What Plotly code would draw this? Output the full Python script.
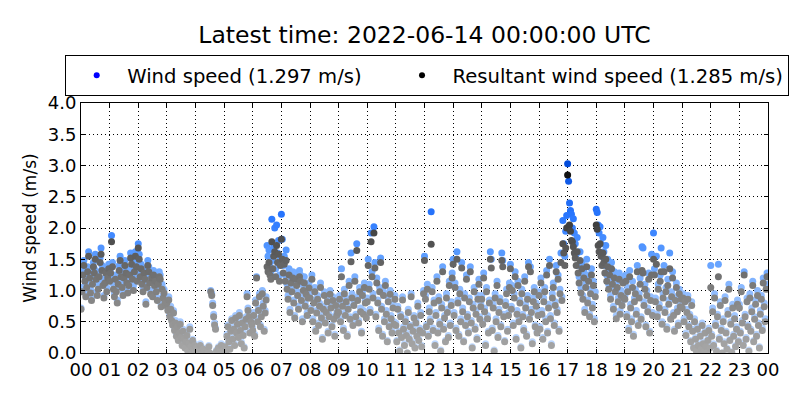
import pandas as pd
import plotly.graph_objects as go

# 2-minute samples for 2022-06-13, one row of 30 values per hour
wind_speed = [
    0.72, 1.05, 1.32, 1.48, 1.22, 0.95, 1.12, 1.38, 1.62, 1.28, 1.02, 0.88, 1.18, 1.45, 1.35, 1.58, 1.25, 0.98, 1.10, 1.30, 1.52, 1.68, 1.40, 1.15, 0.92, 1.20, 1.36, 1.05, 1.28, 1.42,
    1.22, 1.35, 1.88, 1.45, 1.10, 0.95, 1.25, 1.05, 0.85, 1.18, 1.40, 1.55, 1.30, 1.12, 0.98, 1.28, 1.48, 1.36, 1.20, 1.02, 1.15, 1.32, 1.60, 1.50, 1.25, 1.08, 1.38, 1.62, 1.45, 1.22,
    1.75, 1.58, 1.30, 1.42, 1.18, 1.05, 1.35, 1.25, 0.82, 1.12, 1.48, 1.38, 1.20, 1.00, 1.28, 0.95, 1.32, 1.15, 1.22, 1.05, 0.88, 1.18, 1.30, 1.25, 0.78, 1.10, 0.92, 1.02, 0.85, 0.80,
    0.85, 0.72, 0.90, 0.62, 0.75, 0.55, 0.48, 0.68, 0.40, 0.52, 0.30, 0.45, 0.22, 0.35, 0.50, 0.28, 0.15, 0.38, 0.25, 0.10, 0.20, 0.32, 0.05, 0.18, 0.42, 0.12, 0.00, 0.22, 0.08, 0.15,
    0.02, 0.10, 0.00, 0.05, 0.00, 0.15, 0.03, 0.00, 0.08, 0.00, 0.02, 0.00, 0.06, 0.00, 0.12, 0.00, 1.00, 0.95, 0.80, 0.62, 0.48, 0.40, 0.05, 0.00, 0.10, 0.03, 0.00, 0.15, 0.05, 0.02,
    0.00, 0.12, 0.05, 0.30, 0.45, 0.20, 0.08, 0.38, 0.55, 0.25, 0.42, 0.15, 0.60, 0.35, 0.50, 0.28, 0.65, 0.40, 0.18, 0.52, 0.32, 0.10, 0.45, 0.58, 0.95, 0.72, 0.62, 0.35, 0.55, 0.48,
    0.40, 0.65, 0.30, 0.85, 1.22, 0.55, 0.72, 0.95, 0.45, 0.62, 1.00, 0.80, 0.38, 0.68, 0.90, 1.72, 1.55, 1.65, 1.40, 1.30, 2.14, 1.48, 1.70, 2.00, 1.35, 2.05, 1.60, 1.80, 1.25, 1.52,
    2.22, 1.82, 1.40, 1.55, 1.25, 1.65, 1.10, 0.92, 1.35, 0.70, 1.20, 1.05, 1.30, 0.85, 0.60, 1.28, 1.15, 0.98, 0.75, 1.32, 1.25, 0.90, 0.55, 1.08, 1.22, 0.80, 1.00, 0.65, 0.95, 1.12,
    0.95, 0.72, 1.25, 0.55, 0.85, 1.05, 0.38, 0.68, 0.92, 0.48, 0.80, 1.12, 0.60, 0.25, 0.75, 0.98, 0.52, 0.70, 0.88, 0.35, 0.62, 1.00, 0.78, 0.45, 0.90, 0.58, 0.30, 0.82, 0.65, 0.72,
    0.70, 0.92, 0.55, 1.35, 0.80, 0.40, 1.02, 0.65, 0.88, 0.30, 0.75, 1.15, 0.58, 1.60, 0.95, 0.48, 0.82, 1.22, 0.62, 1.75, 0.90, 0.52, 1.05, 0.72, 0.35, 0.98, 0.68, 1.12, 0.85, 0.60,
    0.88, 1.50, 1.10, 0.70, 1.92, 1.30, 0.95, 2.02, 1.45, 0.62, 1.20, 0.85, 0.40, 1.05, 1.52, 0.75, 0.30, 0.98, 0.55, 1.15, 0.68, 0.20, 0.88, 0.45, 1.00, 0.60, 0.35, 0.78, 0.50, 0.92,
    0.48, 0.20, 0.75, 0.35, 0.05, 0.62, 0.28, 0.90, 0.42, 0.15, 0.55, 0.32, 0.00, 0.70, 0.25, 0.45, 0.95, 0.18, 0.38, 0.60, 0.10, 0.52, 0.30, 0.80, 0.22, 0.40, 0.65, 0.12, 0.35, 1.00,
    1.55, 0.92, 0.45, 1.10, 0.30, 0.72, 0.55, 2.26, 1.05, 0.40, 0.85, 0.15, 0.65, 1.22, 0.35, 0.90, 0.50, 0.05, 0.78, 1.38, 0.42, 0.60, 0.20, 0.95, 0.70, 0.28, 1.15, 0.48, 0.82, 1.28,
    1.50, 0.65, 1.12, 0.40, 1.62, 0.85, 0.30, 1.02, 0.55, 1.45, 0.72, 0.20, 0.95, 0.48, 1.25, 0.62, 0.35, 0.88, 1.38, 0.52, 0.10, 0.78, 1.05, 0.42, 0.68, 0.25, 0.92, 1.18, 0.58, 0.80,
    0.92, 0.50, 1.28, 0.72, 0.15, 1.05, 0.60, 0.35, 0.85, 1.62, 1.50, 0.40, 0.78, 0.05, 0.95, 0.55, 1.15, 0.28, 0.70, 0.88, 0.45, 1.60, 1.48, 0.62, 0.20, 0.82, 1.02, 0.38, 0.65, 1.12,
    1.42, 0.75, 1.08, 0.48, 0.95, 1.30, 0.25, 0.68, 1.15, 0.55, 0.85, 0.10, 1.02, 0.62, 0.40, 1.22, 0.78, 0.30, 0.92, 1.45, 0.58, 1.38, 0.70, 0.18, 0.88, 1.05, 0.45, 0.80, 0.35, 0.65,
    0.98, 0.42, 1.20, 0.68, 0.25, 0.88, 1.05, 0.55, 1.32, 0.35, 0.78, 1.50, 0.60, 0.15, 0.95, 1.12, 0.48, 0.82, 1.40, 0.70, 1.25, 0.38, 1.02, 1.60, 0.90, 2.12, 1.75, 1.55, 1.95, 2.20,
    3.03, 2.75, 2.40, 2.28, 2.22, 2.00, 2.15, 1.92, 1.75, 1.58, 1.85, 1.40, 1.22, 1.62, 1.05, 1.45, 0.92, 1.30, 0.70, 1.12, 1.50, 0.85, 1.25, 0.62, 1.02, 1.35, 0.78, 1.15, 0.55, 0.98,
    2.30, 2.25, 2.05, 1.92, 2.02, 1.75, 1.55, 1.85, 1.62, 1.40, 1.72, 1.25, 1.50, 1.10, 1.35, 0.92, 1.45, 1.20, 0.75, 1.30, 1.05, 0.60, 1.15, 0.88, 1.28, 0.68, 1.00, 0.82, 1.22, 0.95,
    0.92, 1.25, 0.62, 1.05, 0.40, 1.32, 0.78, 0.55, 1.15, 0.30, 0.88, 1.02, 0.68, 1.40, 0.48, 0.95, 1.20, 0.58, 1.70, 1.68, 0.82, 1.10, 0.45, 1.00, 0.72, 1.28, 0.35, 0.90, 1.58, 0.65,
    1.92, 1.35, 0.88, 1.55, 0.62, 1.10, 0.78, 1.25, 1.68, 0.50, 0.95, 1.40, 0.70, 1.05, 0.42, 1.18, 0.85, 1.60, 0.58, 0.98, 1.30, 0.65, 0.38, 0.90, 1.12, 0.72, 0.48, 1.02, 0.80, 0.92,
    0.78, 0.95, 0.55, 0.88, 0.32, 0.70, 0.92, 0.45, 0.62, 0.20, 0.82, 0.38, 0.10, 0.55, 0.25, 0.05, 0.42, 0.15, 0.00, 0.30, 0.08, 0.48, 0.18, 0.02, 0.35, 0.12, 0.00, 0.22, 0.40, 0.10,
    1.40, 0.30, 0.72, 0.15, 0.95, 0.48, 0.05, 0.62, 1.42, 0.25, 0.82, 0.40, 0.00, 0.55, 0.18, 0.90, 0.35, 0.08, 0.68, 1.10, 0.22, 0.50, 0.02, 0.78, 0.30, 0.60, 0.12, 0.42, 0.85, 0.20,
    0.78, 0.35, 1.05, 0.52, 0.15, 1.30, 0.62, 0.25, 0.88, 0.45, 0.05, 0.95, 0.38, 0.72, 1.15, 0.20, 0.58, 0.85, 0.30, 1.00, 0.48, 0.10, 0.68, 0.92, 0.40, 1.20, 0.80, 0.55, 1.10, 1.28,
]

resultant_speed = [
    0.70, 0.98, 1.25, 1.40, 1.15, 0.90, 1.05, 1.30, 1.55, 1.20, 0.96, 0.84, 1.10, 1.38, 1.28, 1.50, 1.18, 0.92, 1.02, 1.22, 1.45, 1.58, 1.32, 1.08, 0.88, 1.12, 1.28, 0.98, 1.20, 1.35,
    1.15, 1.28, 1.78, 1.38, 1.02, 0.90, 1.18, 0.98, 0.80, 1.10, 1.32, 1.48, 1.22, 1.05, 0.92, 1.20, 1.40, 1.28, 1.12, 0.96, 1.08, 1.25, 1.52, 1.42, 1.18, 1.00, 1.30, 1.55, 1.38, 1.15,
    1.68, 1.50, 1.22, 1.35, 1.10, 0.98, 1.28, 1.18, 0.78, 1.05, 1.40, 1.30, 1.12, 0.94, 1.20, 0.90, 1.25, 1.08, 1.15, 0.98, 0.84, 1.10, 1.22, 1.18, 0.74, 1.02, 0.88, 0.96, 0.80, 0.76,
    0.80, 0.68, 0.85, 0.58, 0.70, 0.52, 0.45, 0.64, 0.36, 0.48, 0.27, 0.42, 0.20, 0.32, 0.46, 0.25, 0.12, 0.35, 0.22, 0.08, 0.18, 0.28, 0.03, 0.15, 0.38, 0.10, 0.00, 0.20, 0.06, 0.12,
    0.01, 0.08, 0.00, 0.03, 0.00, 0.12, 0.02, 0.00, 0.06, 0.00, 0.01, 0.00, 0.04, 0.00, 0.10, 0.00, 0.98, 0.92, 0.76, 0.58, 0.45, 0.38, 0.03, 0.00, 0.08, 0.02, 0.00, 0.12, 0.03, 0.01,
    0.00, 0.10, 0.03, 0.27, 0.42, 0.18, 0.06, 0.35, 0.52, 0.22, 0.38, 0.12, 0.56, 0.32, 0.46, 0.25, 0.60, 0.36, 0.15, 0.48, 0.28, 0.08, 0.42, 0.54, 0.90, 0.68, 0.58, 0.32, 0.50, 0.45,
    0.36, 0.60, 0.27, 0.80, 1.20, 0.50, 0.68, 0.90, 0.42, 0.58, 0.95, 0.75, 0.35, 0.64, 0.85, 1.38, 1.30, 1.45, 1.25, 1.18, 1.78, 1.35, 1.55, 1.62, 1.22, 1.72, 1.45, 1.58, 1.15, 1.40,
    1.82, 1.50, 1.28, 1.42, 1.15, 1.48, 1.02, 0.86, 1.25, 0.65, 1.12, 0.98, 1.20, 0.80, 0.56, 1.18, 1.08, 0.92, 0.70, 1.22, 1.15, 0.84, 0.50, 1.00, 1.12, 0.75, 0.94, 0.60, 0.88, 1.04,
    0.88, 0.68, 1.18, 0.50, 0.80, 0.98, 0.35, 0.64, 0.86, 0.44, 0.75, 1.05, 0.56, 0.22, 0.70, 0.92, 0.48, 0.65, 0.82, 0.32, 0.58, 0.94, 0.72, 0.42, 0.84, 0.54, 0.27, 0.76, 0.60, 0.66,
    0.65, 0.86, 0.50, 1.22, 0.75, 0.36, 0.95, 0.60, 0.82, 0.27, 0.70, 1.08, 0.54, 1.46, 0.88, 0.44, 0.76, 1.15, 0.58, 1.64, 0.84, 0.48, 0.98, 0.66, 0.32, 0.92, 0.62, 1.05, 0.80, 0.56,
    0.82, 1.40, 1.02, 0.65, 1.78, 1.22, 0.88, 1.92, 1.36, 0.58, 1.12, 0.80, 0.36, 0.98, 1.45, 0.70, 0.27, 0.92, 0.50, 1.08, 0.62, 0.18, 0.82, 0.42, 0.94, 0.55, 0.32, 0.72, 0.46, 0.86,
    0.44, 0.18, 0.70, 0.32, 0.03, 0.58, 0.25, 0.85, 0.38, 0.12, 0.50, 0.28, 0.00, 0.65, 0.22, 0.42, 0.90, 0.15, 0.35, 0.56, 0.08, 0.48, 0.27, 0.75, 0.20, 0.36, 0.60, 0.10, 0.32, 0.95,
    1.48, 0.86, 0.42, 1.02, 0.27, 0.66, 0.50, 1.74, 0.98, 0.36, 0.80, 0.12, 0.60, 1.15, 0.32, 0.84, 0.46, 0.03, 0.72, 1.30, 0.38, 0.56, 0.18, 0.88, 0.65, 0.25, 1.08, 0.44, 0.76, 1.20,
    1.42, 0.60, 1.05, 0.36, 1.50, 0.80, 0.27, 0.95, 0.50, 1.36, 0.66, 0.18, 0.88, 0.44, 1.18, 0.58, 0.32, 0.82, 1.30, 0.48, 0.08, 0.72, 0.98, 0.38, 0.62, 0.22, 0.86, 1.10, 0.54, 0.74,
    0.86, 0.46, 1.20, 0.66, 0.12, 0.98, 0.55, 0.32, 0.80, 1.50, 1.36, 0.36, 0.72, 0.03, 0.88, 0.50, 1.08, 0.25, 0.65, 0.82, 0.42, 1.48, 1.38, 0.58, 0.18, 0.76, 0.95, 0.35, 0.60, 1.05,
    1.35, 0.70, 1.00, 0.44, 0.88, 1.22, 0.22, 0.62, 1.08, 0.50, 0.80, 0.08, 0.95, 0.58, 0.36, 1.15, 0.72, 0.27, 0.86, 1.38, 0.54, 1.30, 0.65, 0.15, 0.82, 0.98, 0.42, 0.75, 0.32, 0.60,
    0.92, 0.38, 1.12, 0.62, 0.22, 0.82, 0.98, 0.50, 1.25, 0.32, 0.72, 1.40, 0.55, 0.12, 0.88, 1.05, 0.44, 0.76, 1.30, 0.65, 1.18, 0.35, 0.95, 1.45, 0.84, 1.75, 1.60, 1.40, 1.68, 2.00,
    2.85, 2.02, 2.05, 1.95, 1.80, 1.78, 1.70, 1.60, 1.52, 1.40, 1.62, 1.28, 1.12, 1.48, 0.96, 1.35, 0.86, 1.20, 0.65, 1.05, 1.38, 0.80, 1.15, 0.58, 0.95, 1.25, 0.72, 1.08, 0.50, 0.90,
    2.05, 1.98, 1.72, 1.62, 1.75, 1.55, 1.40, 1.60, 1.45, 1.28, 1.50, 1.15, 1.38, 1.02, 1.25, 0.86, 1.35, 1.10, 0.70, 1.20, 0.98, 0.55, 1.05, 0.82, 1.18, 0.62, 0.92, 0.76, 1.12, 0.88,
    0.86, 1.15, 0.58, 0.98, 0.36, 1.22, 0.72, 0.50, 1.05, 0.27, 0.82, 0.95, 0.62, 1.30, 0.44, 0.88, 1.10, 0.54, 1.32, 1.28, 0.76, 1.02, 0.42, 0.92, 0.66, 1.18, 0.32, 0.84, 1.25, 0.60,
    1.50, 1.25, 0.82, 1.42, 0.58, 1.02, 0.72, 1.15, 1.30, 0.46, 0.88, 1.30, 0.65, 0.98, 0.38, 1.08, 0.78, 1.35, 0.54, 0.90, 1.20, 0.60, 0.35, 0.84, 1.05, 0.66, 0.44, 0.95, 0.74, 0.86,
    0.72, 0.88, 0.50, 0.82, 0.28, 0.65, 0.86, 0.42, 0.58, 0.18, 0.76, 0.35, 0.08, 0.50, 0.22, 0.03, 0.38, 0.12, 0.00, 0.27, 0.06, 0.44, 0.15, 0.01, 0.32, 0.10, 0.00, 0.20, 0.36, 0.08,
    1.05, 0.27, 0.66, 0.12, 0.88, 0.44, 0.03, 0.58, 1.22, 0.22, 0.76, 0.36, 0.00, 0.50, 0.15, 0.84, 0.32, 0.06, 0.62, 1.02, 0.20, 0.46, 0.01, 0.72, 0.27, 0.55, 0.10, 0.38, 0.78, 0.18,
    0.72, 0.32, 0.98, 0.48, 0.12, 1.25, 0.58, 0.22, 0.82, 0.42, 0.03, 0.88, 0.35, 0.66, 1.08, 0.18, 0.54, 0.78, 0.27, 0.92, 0.44, 0.08, 0.62, 0.86, 0.36, 1.12, 0.74, 0.50, 1.02, 1.22,
]

title_text = "Latest time: 2022-06-14 00:00:00 UTC"
ws_label = "Wind speed (1.297 m/s)"
rws_label = "Resultant wind speed (1.285 m/s)"
hour_labels = ["%02d" % h for h in range(24)] + ["00"]

ws_times = pd.date_range("2022-06-13 00:00", periods=len(wind_speed), freq="2min")
rws_times = pd.date_range("2022-06-13 00:00", periods=len(resultant_speed), freq="2min")
hour_ticks = pd.date_range("2022-06-13 00:00", "2022-06-14 00:00", freq="1h")

blues = [[0.0, "#c4dcff"], [0.33, "#8cbaff"], [0.5, "#5c9dff"], [0.7, "#2a78ff"], [1.0, "#0048d8"]]
greys = [[0.0, "#a8a8a8"], [0.33, "#808080"], [0.5, "#606060"], [0.7, "#3c3c3c"], [1.0, "#0a0a0a"]]

fig = go.Figure()
fig.add_trace(go.Scatter(
    x=ws_times, y=wind_speed, mode="markers", showlegend=False,
    marker=dict(size=7, color=wind_speed, colorscale=blues, cmin=0, cmax=3.1, line_width=0),
))
fig.add_trace(go.Scatter(
    x=rws_times, y=resultant_speed, mode="markers", showlegend=False,
    marker=dict(size=7, color=resultant_speed, colorscale=greys, cmin=0, cmax=3.0, line_width=0),
))
# legend-only entries (nbsp padding to space the two entries like the original)
fig.add_trace(go.Scatter(x=[None], y=[None], mode="markers", name=ws_label + "\u00a0" * 4,
                         marker=dict(size=6, color="#0000ff")))
fig.add_trace(go.Scatter(x=[None], y=[None], mode="markers", name=rws_label,
                         marker=dict(size=6, color="#000000")))

axis_common = dict(
    showline=True, linecolor="black", linewidth=1, mirror="ticks",
    ticks="inside", ticklen=4, tickcolor="black",
    showgrid=True, gridcolor="black", gridwidth=1, griddash="1px,3px",
    zeroline=False, tickfont=dict(size=18, color="black"),
)

fig.update_xaxes(
    range=[hour_ticks[0], hour_ticks[-1]],
    tickvals=hour_ticks, ticktext=hour_labels, **axis_common,
)
fig.update_yaxes(
    range=[0, 4], dtick=0.5, tickformat=".1f",
    title=dict(text="Wind speed (m/s)", font=dict(size=17, color="black"), standoff=6),
    **axis_common,
)

fig.update_layout(
    width=800, height=400,
    margin=dict(l=73, r=40, t=95, b=55),
    paper_bgcolor="white", plot_bgcolor="white",
    font=dict(family="DejaVu Sans", color="black"),
    title=dict(text=title_text, x=0.5206, xanchor="center", y=0.9325, yanchor="middle",
               yref="container", font=dict(size=23.5, color="black")),
    legend=dict(
        orientation="h", x=-0.023, xanchor="left", y=1.192, yanchor="top",
        bordercolor="black", borderwidth=1, font=dict(size=19.6, color="black"),
        itemwidth=51,
    ),
)

fig.write_html("out.html")
